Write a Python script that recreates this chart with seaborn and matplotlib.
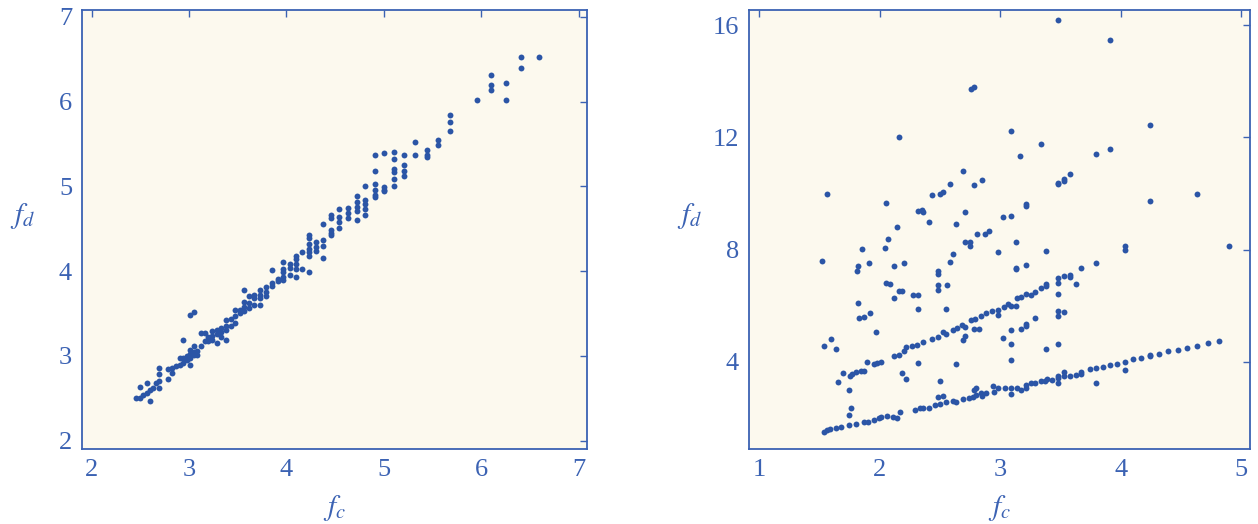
import numpy as np
import pandas as pd
import matplotlib
matplotlib.use("Agg")
import matplotlib.pyplot as plt
import seaborn as sns

# left panel: f_c vs f_d
fc_left = [6.59, 6.41, 6.41, 6.25, 6.25, 6.10, 6.10, 6.10, 5.96, 5.68, 5.68, 5.68,
           5.56, 5.56, 5.44, 5.44, 5.44, 5.32, 5.32, 5.21, 5.21, 5.21, 5.21,
           5.10, 5.10, 5.10, 5.10, 5.10, 5.10, 5.00, 5.00, 5.00, 5.00,
           4.91, 4.91, 4.91, 4.91, 4.91, 4.91, 4.81, 4.81, 4.81, 4.81, 4.81,
           4.72, 4.72, 4.72, 4.72, 4.72, 4.63, 4.63, 4.63, 4.54, 4.54, 4.54, 4.54,
           4.46, 4.46, 4.46, 4.46, 4.46, 4.38, 4.38, 4.38, 4.38, 4.30, 4.30, 4.30,
           4.23, 4.23, 4.23, 4.23, 4.23, 4.23, 4.23, 4.16, 4.16,
           4.10, 4.10, 4.10, 4.10, 4.10, 4.04, 4.04, 4.04,
           3.97, 3.97, 3.97, 3.97, 3.97, 3.91, 3.91, 3.85, 3.85, 3.85,
           3.79, 3.79, 3.79, 3.73, 3.73, 3.73, 3.73, 3.67, 3.67, 3.67,
           3.62, 3.62, 3.62, 3.57, 3.57, 3.57, 3.57, 3.52, 3.52,
           3.47, 3.47, 3.47, 3.43, 3.43, 3.38, 3.38, 3.38, 3.38,
           3.33, 3.33, 3.33, 3.29, 3.29, 3.29, 3.24, 3.24, 3.24, 3.20, 3.20,
           3.16, 3.16, 3.12, 3.12, 3.08, 3.08, 3.05, 3.05, 3.05, 3.05,
           3.01, 3.01, 3.01, 3.01, 3.01, 2.98, 2.98, 2.94, 2.94, 2.94,
           2.91, 2.91, 2.87, 2.83, 2.83, 2.78, 2.78, 2.69, 2.69, 2.69, 2.69,
           2.66, 2.63, 2.60, 2.60, 2.57, 2.57, 2.53, 2.50, 2.50, 2.46]
fd_left = [6.52, 6.52, 6.40, 6.22, 6.02, 6.31, 6.19, 6.14, 6.02, 5.84, 5.76, 5.65,
           5.55, 5.49, 5.43, 5.37, 5.35, 5.52, 5.37, 5.37, 5.25, 5.18, 5.12,
           5.41, 5.32, 5.20, 5.17, 5.09, 5.00, 5.39, 4.99, 4.96, 4.94,
           5.37, 5.18, 5.03, 4.96, 4.90, 4.87, 5.00, 4.84, 4.79, 4.73, 4.66,
           4.88, 4.82, 4.75, 4.71, 4.60, 4.74, 4.68, 4.63, 4.73, 4.64, 4.58, 4.51,
           4.66, 4.62, 4.49, 4.45, 4.42, 4.55, 4.37, 4.30, 4.15, 4.34, 4.28, 4.24,
           4.42, 4.39, 4.32, 4.26, 4.22, 4.18, 3.99, 4.22, 4.03,
           4.18, 4.14, 4.08, 4.03, 3.93, 4.08, 4.04, 3.95,
           4.11, 4.03, 3.99, 3.93, 3.90, 3.91, 3.88, 4.01, 3.86, 3.82,
           3.81, 3.75, 3.70, 3.78, 3.72, 3.68, 3.60, 3.72, 3.68, 3.60,
           3.70, 3.62, 3.56, 3.78, 3.64, 3.58, 3.53, 3.54, 3.50,
           3.54, 3.47, 3.39, 3.43, 3.35, 3.42, 3.35, 3.30, 3.19,
           3.33, 3.28, 3.22, 3.30, 3.26, 3.15, 3.29, 3.23, 3.19, 3.22, 3.18,
           3.27, 3.17, 3.27, 3.11, 3.06, 3.01, 3.52, 3.11, 3.05, 3.01,
           3.48, 3.07, 3.02, 2.98, 2.89, 3.00, 2.95, 3.19, 2.98, 2.92,
           2.97, 2.89, 2.88, 2.86, 2.80, 2.84, 2.73, 2.86, 2.78, 2.70, 2.62,
           2.68, 2.62, 2.60, 2.47, 2.68, 2.56, 2.54, 2.63, 2.50, 2.50]

# right panel
fc_right = [1.54, 1.56, 1.585, 1.64, 1.68, 1.74, 1.80, 1.87, 1.90, 1.955, 1.99, 2.01,
            2.06, 2.11, 2.14, 2.165, 2.29, 2.33, 2.36, 2.41, 2.46, 2.50, 2.48, 2.525,
            2.55, 2.61, 2.63, 2.69, 2.74, 2.77, 2.78, 2.80, 2.80, 2.85, 2.84, 2.88,
            2.94, 2.98, 2.95, 3.04, 3.09, 3.09, 3.14, 3.17, 3.21, 3.21, 3.25, 3.29,
            3.34, 3.37, 3.39, 3.43, 3.48, 3.48, 3.48, 3.525, 3.525, 3.58, 3.63, 3.67,
            3.67, 3.74, 3.79, 3.79, 3.85, 3.91, 3.97, 4.03, 4.03, 4.10, 4.17, 4.24,
            4.24, 4.32, 4.39, 4.47, 4.55, 4.63, 4.72, 4.81,
            # second line
            1.69, 1.75, 1.77, 1.80, 1.84, 1.87, 1.895, 1.95, 1.975, 2.006, 2.12, 2.155,
            2.20, 2.22, 2.27, 2.31, 2.36, 2.43, 2.48, 2.52, 2.55, 2.61, 2.64, 2.68,
            2.71, 2.76, 2.79, 2.835, 2.88, 2.93, 2.98, 2.98, 3.03, 3.06, 3.09, 3.14,
            3.17, 3.21, 3.25, 3.29, 3.34, 3.38, 3.38, 3.48, 3.48, 3.525, 3.58, 3.58,
            3.63, 3.67, 3.79, 4.03, 4.03,
            # scattered
            1.74, 1.74, 1.76, 1.65, 1.54, 1.595, 1.64, 1.52, 1.56, 1.81, 1.82, 1.82,
            1.83, 1.87, 1.855, 1.91, 1.92, 1.97, 2.04, 2.05, 2.07, 2.05, 2.08, 2.12,
            2.12, 2.14, 2.155, 2.155, 2.18, 2.20, 2.18, 2.22, 2.275, 2.32, 2.32, 2.32,
            2.32, 2.35, 2.36, 2.41, 2.43, 2.48, 2.48, 2.48, 2.48, 2.50, 2.525, 2.55,
            2.56, 2.58, 2.58, 2.50, 2.61, 2.63, 2.63, 2.69, 2.69, 2.71, 2.71, 2.745,
            2.745, 2.71, 2.755, 2.78, 2.78, 2.78, 2.82, 2.81, 2.845, 2.87, 2.905, 2.98,
            3.02, 3.02, 3.09, 3.09, 3.09, 3.09, 3.09, 3.13, 3.13, 3.13, 3.13, 3.165,
            3.17, 3.21, 3.21, 3.21, 3.21, 3.21, 3.29, 3.335, 3.38, 3.38, 3.48, 3.48,
            3.48, 3.48, 3.48, 3.48, 3.48, 3.525, 3.525, 3.525, 3.58, 3.79, 3.91, 3.91,
            4.24, 4.24, 4.63, 4.90]
fd_right = [1.51, 1.57, 1.61, 1.63, 1.69, 1.73, 1.77, 1.85, 1.87, 1.93, 1.99, 2.05,
            2.06, 2.05, 2.01, 2.20, 2.29, 2.35, 2.37, 2.37, 2.46, 2.49, 2.73, 2.79,
            2.58, 2.61, 2.55, 2.67, 2.70, 2.74, 3.00, 3.06, 2.82, 2.79, 2.88, 2.88,
            3.12, 3.08, 2.94, 3.06, 3.08, 2.85, 3.08, 3.00, 3.18, 3.06, 3.24, 3.26,
            3.30, 3.32, 3.38, 3.36, 3.48, 3.42, 3.24, 3.63, 3.48, 3.48, 3.54, 3.56,
            3.65, 3.74, 3.77, 3.24, 3.81, 3.89, 3.92, 4.01, 3.71, 4.11, 4.13, 4.19,
            4.25, 4.29, 4.37, 4.43, 4.49, 4.58, 4.67, 4.73,
            # second line
            3.60, 3.48, 3.56, 3.65, 3.68, 3.69, 3.99, 3.92, 3.94, 3.98, 4.21, 4.25,
            4.37, 4.51, 4.55, 4.61, 4.70, 4.82, 4.90, 5.06, 4.99, 5.14, 5.20, 5.32,
            5.23, 5.48, 5.54, 5.65, 5.74, 5.82, 5.86, 5.68, 5.94, 6.06, 6.00, 6.27,
            6.30, 6.42, 6.39, 6.49, 6.63, 6.69, 6.77, 6.99, 6.81, 7.05, 7.11, 7.01,
            6.77, 7.35, 7.52, 8.12, 8.00,
            # scattered
            3.00, 2.11, 2.35, 3.27, 4.58, 4.81, 4.45, 7.58, 9.99, 7.25, 7.43, 6.10,
            5.56, 5.60, 8.02, 7.52, 5.74, 5.06, 8.04, 9.65, 8.39, 6.81, 6.79, 6.27,
            7.43, 8.80, 12.01, 6.54, 6.51, 7.52, 3.60, 3.38, 6.39, 6.39, 5.88, 3.95,
            9.37, 9.40, 9.35, 8.98, 9.94, 7.25, 7.13, 6.75, 6.55, 9.99, 10.06, 5.89,
            6.75, 10.35, 7.56, 3.32, 7.86, 8.92, 3.93, 10.80, 4.79, 9.35, 8.27, 8.27,
            8.11, 4.93, 13.74, 13.81, 10.29, 5.18, 5.18, 8.54, 10.48, 8.54, 8.65, 7.92,
            9.15, 4.85, 12.24, 9.21, 5.14, 4.63, 4.07, 8.27, 7.35, 7.29, 5.98, 11.33,
            5.18, 9.64, 9.55, 7.46, 5.35, 5.26, 5.56, 11.77, 7.94, 4.45, 16.18, 10.38,
            10.32, 6.43, 5.82, 5.64, 4.64, 10.50, 10.44, 5.77, 10.71, 11.39, 15.46, 11.60,
            12.44, 9.73, 9.99, 8.14]

left = pd.DataFrame({"fc": fc_left, "fd": fd_left})
right = pd.DataFrame({"fc": fc_right, "fd": fd_right})

sns.set_style("white")
plt.rcParams["font.family"] = ["Liberation Serif", "DejaVu Serif"]
plt.rcParams["mathtext.fontset"] = "stix"

blue = "#2b55a6"
frame = "#3b62b3"
bg = "#fcf9ee"

fig = plt.figure(figsize=(12.58, 5.24), dpi=100)
ax1 = fig.add_axes([0.065, 0.143, 0.402, 0.838])
ax2 = fig.add_axes([0.595, 0.143, 0.399, 0.838])

sns.scatterplot(data=left, x="fc", y="fd", ax=ax1, color=blue, s=18, linewidth=0)
sns.scatterplot(data=right, x="fc", y="fd", ax=ax2, color=blue, s=18, linewidth=0)

ax1.set_xlim(1.9, 7.09)
ax1.set_ylim(1.9, 7.08)
ax1.set_xticks([2, 3, 4, 5, 6, 7])
ax1.set_yticks([2, 3, 4, 5, 6, 7])

ax2.set_xlim(0.91, 5.075)
ax2.set_ylim(0.89, 16.54)
ax2.set_xticks([1, 2, 3, 4, 5])
ax2.set_yticks([4, 8, 12, 16])

for ax in (ax1, ax2):
    ax.set_facecolor(bg)
    for sp in ax.spines.values():
        sp.set_color(frame)
        sp.set_linewidth(1.3)
    ax.tick_params(direction="in", length=5, width=1, color=frame, labelcolor=frame,
                   labelsize=19, top=True, right=True, pad=7)
    ax.set_xlabel("$f_c$", fontsize=21, color=frame, va="center")
    ax.set_ylabel("$f_d$", fontsize=21, color=frame, rotation=0, va="center", ha="center")
    ax.xaxis.set_label_coords(0.5, -0.135)
    ax.yaxis.set_label_coords(-0.118, 0.53)

fig.savefig("out.png", dpi=100)
